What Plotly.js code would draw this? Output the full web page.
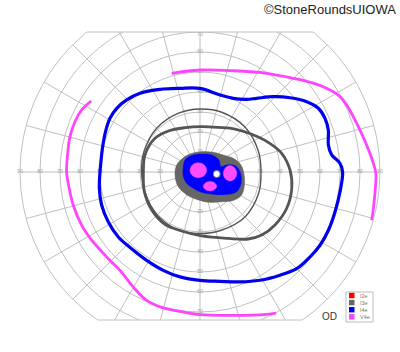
<!DOCTYPE html>
<html><head><meta charset="utf-8">
<script src="https://cdn.plot.ly/plotly-3.0.1.min.js"></script>
<style>
html,body{margin:0;padding:0;width:400px;height:352px;overflow:hidden;background:#fff}
#plot{position:absolute;left:0;top:-28px;width:400px;height:400px}
</style>
</head><body><div id="plot"></div>
<script>
// ---------- DATA (theta in degrees, r in degrees of eccentricity) ----------
const tickValsHoriz = [10, 20, 30, 40, 50, 60, 70, 80, 90];
const tickValsVert  = [10, 20, 30, 40, 50, 60, 70];
const horizDirs = [0, 180];
const vertDirs = [90, 270];

const legendLabels = ['I2e', 'I3e', 'I4e', 'V4e'];
const legendColors = ['#ff0000', '#666666', '#0000ff', '#ff44ff'];

// V4e isopter (two open arcs)
const v4eUpperTheta = [106.0, 90, 71.8, 55.9, 45.1, 38.1, 32.2, 28.3, 24.5, 19.8, 14.7, 9.2, 4.6, -0.3, -6.5, -12.0, -15.7];
const v4eUpperR     = [51.3, 51.0, 53.3, 59.6, 66.1, 72.0, 76.9, 79.5, 80.6, 81.5, 82.7, 84.4, 86.1, 87.9, 88.1, 88.6, 89.2];
const v4eLowerTheta = [146.9, 152.3, 158.1, 164.8, 172.0, 180, 187.3, 194.7, 204.3, 212.2, 223.4, 230.9, 239.9, 247.4, 254.9, 261.8, 270, 283.1, 295.1, 298.3];
const v4eLowerR     = [65.0, 66.8, 67.4, 67.4, 66.8, 66.7, 65.9, 65.5, 64.9, 64.0, 63.1, 63.4, 66.5, 69.5, 70.4, 70.4, 71.3, 73.6, 78.6, 80.2];

// I4e isopter (closed)
const i4eTheta = [90, 103.4, 115.8, 127.3, 135.5, 142.6, 149.2, 155.9, 165.4, 175.0,
                  180, 189.4, 198.7, 208.6, 218.5, 228.3, 238.9, 249.5, 259.2, 270,
                  280.4, 290.0, 299.0, 307.8, 315, 322.3, 328.6, 335.6, 343.5, 351.9,
                  360, 363.6, 367.4, 371.9, 378.1, 383.2, 388.3, 393.4, 399.5, 405.8,
                  412.4, 417.3, 425.7, 435.4, 450];
const i4eR     = [41.8, 43.0, 45.9, 49.5, 51.4, 52.4, 52.4, 51.5, 50.3, 49.8,
                  50, 51.0, 51.9, 52.2, 52.2, 51.4, 51.6, 52.5, 53.4, 54.2,
                  55.6, 58.5, 61.9, 65.3, 68.4, 69.5, 70.3, 70.5, 70.4, 70.7,
                  71.3, 70.1, 66.4, 65.6, 67.5, 68.0, 67.2, 63.9, 58.4, 52.5,
                  46.5, 43.2, 40.4, 39.8, 41.8];

// I3e isopters (outer thick, inner thin)
const i3eOuterTheta = [180, 162.8, 143.2, 127.7, 108.7, 87.9, 67.7, 50.9, 36.1, 23.5, 12.9, 1.3, -10.1, -22.7, -35.2, -45.6, -54.2, -66.9, -88.5, -107.3, -123.8, -141.8, -160.5, -180];
const i3eOuterR     = [28.3, 28.8, 28.1, 25.9, 23.4, 22.7, 24.1, 27.7, 32.0, 37.2, 41.9, 45.0, 46.6, 47.0, 45.9, 44.1, 41.3, 36.1, 32.0, 30.9, 31.5, 30.7, 29.5, 28.3];
const i3eInnerTheta = [0, 20, 45, 70, 90, 110, 135, 160, 180, 200, 225, 250, 270, 290, 315, 340, 360];
const i3eInnerR     = [30.5, 31.0, 31.8, 31.8, 31.5, 31.3, 30.8, 29.8, 29.2, 29.3, 30.3, 31.0, 30.8, 31.0, 31.8, 31.2, 30.5];

// central filled areas
const grayAreaTheta = [186.8, 163.3, 139.3, 119.1, 85.3, 55.9, 36.1, 22.3, 9.7, -3.9, -18.3, -30.0, -40.4, -53.9, -74.6, -93.4, -112.1, -129.3, -148.5, -173.2];
const grayAreaR     = [12.6, 12.2, 11.0, 10.3, 10.2, 11.9, 14.4, 18.0, 20.8, 22.1, 23.3, 23.7, 21.9, 18.4, 15.7, 14.0, 13.3, 13.1, 13.1, 12.6];
const blueAreaTheta = [162.3, 141.3, 117.0, 84.7, 55.5, 32.3, 14.2, 14.7, 10.3, 0.5, -15.5, -28.2, -38.2, -56.1, -85.3, -112.2, -139.6, -166.5, -197.7];
const blueAreaR     = [8.75, 9.6, 9.2, 9.0, 10.3, 11.2, 10.8, 13.8, 17.8, 20, 21.3, 20.8, 18.0, 13.5, 10.2, 8.8, 8.75, 8.6, 8.75];
const pinkA_Theta = [15.3, 59.4, 100.4, 136.9, 169.8, 204.7, 253.4, 320.2, 375.3];
const pinkA_R     = [3.42, 4.12, 4.73, 5.2, 5.08, 4.18, 2.97, 2.73, 3.42];
const pinkB_Theta = [-2.0, 6.7, 12.0, 9.2, -3.2, -14.8, -16.7, -10.9, -2.0];
const pinkB_R     = [18.36, 17.47, 15.34, 12.82, 11.67, 13.09, 15.66, 17.67, 18.36];
const pinkC_Theta = [-40.6, -36.8, -43.8, -64.3, -77.0, -73.2, -62.2, -50.1, -40.6];
const pinkC_R     = [11.0, 9.18, 6.93, 6.1, 7.34, 9.19, 10.74, 11.47, 11.0];
const blindSpotTheta = [-6.8];
const blindSpotR     = [8.4];

// ---------- BUILD ----------
const GRID = '#c0c0c0';
const labR = [], labT = [], labTxt = [], labPos = [];
horizDirs.forEach(d => tickValsHoriz.forEach(v => { labR.push(v); labT.push(d); labTxt.push(String(v)); labPos.push('middle center'); }));
vertDirs.forEach(d => tickValsVert.forEach(v => {
  labR.push(v); labT.push(d); labTxt.push(String(v));
  labPos.push(d === 90 && v === tickValsVert[tickValsVert.length - 1] ? 'bottom center' : 'middle center');
}));

function area(theta, r, color) {
  return {type: 'scatterpolar', mode: 'lines', theta: theta, r: r, fill: 'toself',
          fillcolor: color, line: {color: color, width: 0.5, shape: 'spline'}, hoverinfo: 'skip'};
}
function iso(theta, r, color, w) {
  return {type: 'scatterpolar', mode: 'lines', theta: theta, r: r,
          line: {color: color, width: w, shape: 'spline', smoothing: 1}, hoverinfo: 'skip'};
}

const traces = [
  {type: 'scatterpolar', mode: 'text', r: labR, theta: labT, text: labTxt, textposition: labPos, cliponaxis: false,
   textfont: {size: 5, color: '#9c9c9c', family: 'Liberation Sans, Arial, sans-serif'}, hoverinfo: 'skip'},
  area(grayAreaTheta, grayAreaR, '#666666'),
  area(blueAreaTheta, blueAreaR, '#0000ff'),
  area(pinkA_Theta, pinkA_R, '#ff4dff'),
  area(pinkB_Theta, pinkB_R, '#ff4dff'),
  area(pinkC_Theta, pinkC_R, '#ff4dff'),
  {type: 'scatterpolar', mode: 'markers', theta: blindSpotTheta, r: blindSpotR,
   marker: {size: 7, color: '#ffffff', line: {color: '#777', width: 1}}, hoverinfo: 'skip'},
  iso(i3eInnerTheta, i3eInnerR, '#555555', 1.4),
  iso(i3eOuterTheta, i3eOuterR, '#555555', 2.8),
  iso(i4eTheta, i4eR, '#0000ee', 3.2),
  iso(v4eUpperTheta, v4eUpperR, '#ff44ff', 2.8),
  iso(v4eLowerTheta, v4eLowerR, '#ff44ff', 2.8)
];

// layout helpers: window pixel -> paper
const W = 400, H = 400, OFF = 28;
const px = x => x / W;
const py = y => 1 - (y + OFF) / H;
const cx = 200, cy = 172, R = 180, topY = 32, botY = 320;
const hwTop = Math.sqrt(R * R - (cy - topY) ** 2);
const hwBot = Math.sqrt(R * R - (botY - cy) ** 2);

const shapes = [
  {type: 'rect', xref: 'paper', yref: 'paper', x0: 0, x1: 1, y0: py(topY), y1: 1, fillcolor: '#fff', line: {width: 0}, layer: 'above'},
  {type: 'rect', xref: 'paper', yref: 'paper', x0: 0, x1: 1, y0: 0, y1: py(botY), fillcolor: '#fff', line: {width: 0}, layer: 'above'},
  {type: 'line', xref: 'paper', yref: 'paper', x0: px(cx - hwTop), x1: px(cx + hwTop), y0: py(topY), y1: py(topY), line: {color: GRID, width: 1}, layer: 'above'},
  {type: 'line', xref: 'paper', yref: 'paper', x0: px(cx - hwBot), x1: px(cx + hwBot), y0: py(botY), y1: py(botY), line: {color: GRID, width: 1}, layer: 'above'},
  {type: 'rect', xref: 'paper', yref: 'paper', x0: px(346), x1: px(373), y0: py(322), y1: py(292), fillcolor: '#fff', line: {color: '#bdbdbd', width: 1}, layer: 'above'}
];
const annotations = [
  {xref: 'paper', yref: 'paper', x: px(398), y: py(9), xanchor: 'right', yanchor: 'middle', showarrow: false,
   text: '©StoneRoundsUIOWA', font: {size: 13, color: '#222', family: 'Liberation Sans, Arial, sans-serif'}},
  {xref: 'paper', yref: 'paper', x: px(329), y: py(316), xanchor: 'center', yanchor: 'middle', showarrow: false,
   text: 'OD', font: {size: 10, color: '#333', family: 'Liberation Sans, Arial, sans-serif'}}
];
legendLabels.forEach((lab, i) => {
  const yc = 295.5 + i * 7.1;
  shapes.push({type: 'rect', xref: 'paper', yref: 'paper', x0: px(349), x1: px(354.5), y0: py(yc + 2.7), y1: py(yc - 2.7),
               fillcolor: legendColors[i], line: {width: 0}, layer: 'above'});
  annotations.push({xref: 'paper', yref: 'paper', x: px(357.5), y: py(yc), xanchor: 'left', yanchor: 'middle', showarrow: false,
                    text: lab, font: {size: 5.5, color: '#777', family: 'Liberation Sans, Arial, sans-serif'}});
});

const layout = {
  width: W, height: H, margin: {l: 0, r: 0, t: 0, b: 0},
  paper_bgcolor: '#fff', showlegend: false,
  polar: {
    domain: {x: [0.05, 0.95], y: [0.05, 0.95]}, bgcolor: '#fff',
    radialaxis: {range: [0, 90], tick0: 0, dtick: 10, showticklabels: false, ticks: '', showline: false,
                 gridcolor: GRID, gridwidth: 1, angle: 0},
    angularaxis: {dtick: 15, showticklabels: false, ticks: '', showline: true, linecolor: GRID, linewidth: 1,
                  gridcolor: GRID, gridwidth: 1, rotation: 0, direction: 'counterclockwise'}
  },
  shapes: shapes, annotations: annotations
};
Plotly.newPlot('plot', traces, layout, {staticPlot: true, displayModeBar: false});
</script></body></html>
